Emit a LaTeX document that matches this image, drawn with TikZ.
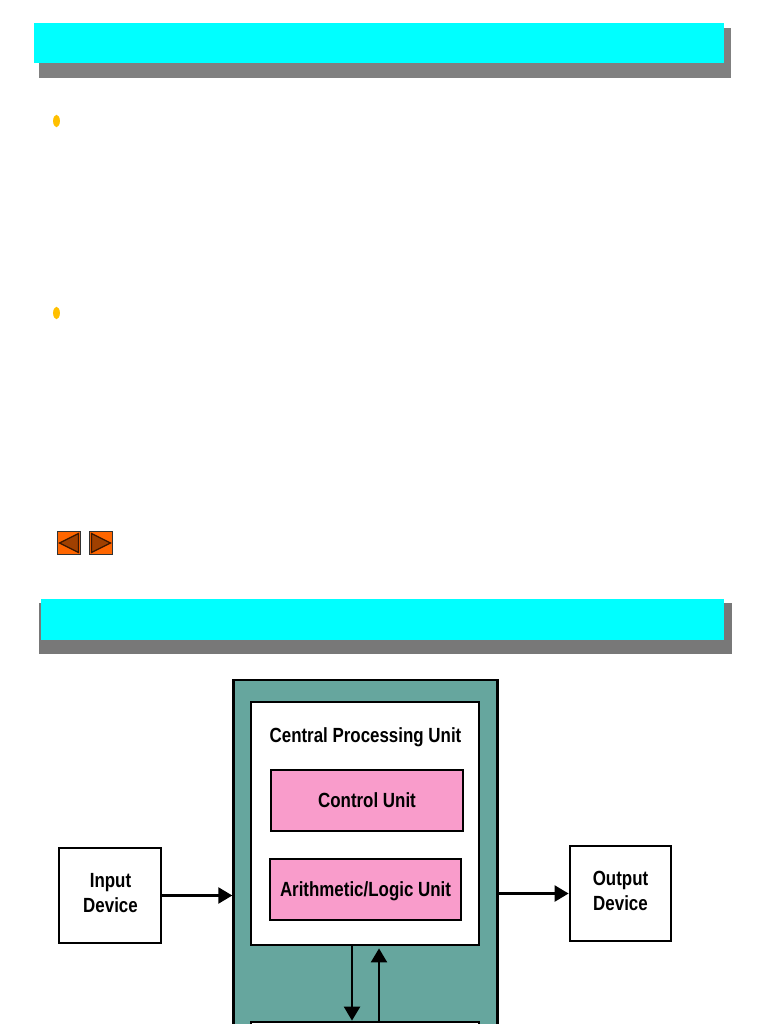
\documentclass[tikz,border=0pt]{standalone}
\usepackage{fontspec}
\setmainfont[FakeStretch=.825,BoldFont={Liberation Sans Bold}]{Liberation Sans}
\usetikzlibrary{arrows.meta}
\definecolor{barcyan}{HTML}{00FFFF}
\definecolor{cputeal}{HTML}{66A69E}
\definecolor{unitpink}{HTML}{F99CCB}
\definecolor{navorange}{HTML}{FF6600}
\definecolor{navbrown}{HTML}{A04000}
\definecolor{bulletgold}{HTML}{FFC000}
\tikzset{
 blocktext/.style={align=center,font=\fontsize{20.5}{24.5}\selectfont\bfseries},
 block/.style={draw=black,line width=2.8pt,inner sep=0pt,blocktext},
 link/.style={line width=2.4pt,-{Triangle[length=14pt,width=16pt]}}
}
\begin{document}
\begin{tikzpicture}[x=1pt,y=-1pt]
 \useasboundingbox (0,0) rectangle (768,1024);
 \clip (0,0) rectangle (768,1024);
 \fill[white] (0,0) rectangle (768,1024);
 % title bars
 \fill[black!50] (39,28) rectangle (731,78); \fill[barcyan] (34,23) rectangle (724,63);
 \fill[black!53] (39,603) rectangle (732,654); \fill[barcyan] (41,599) rectangle (724,640);
 % bullets
 \foreach \y in {121,313} \fill[bulletgold] (56.5,\y) ellipse (3.4 and 6.2);
 % nav buttons
 \foreach \x/\d in {57.5/-1,89.5/1} {
  \draw[fill=navorange,draw=black!80,line width=1.2pt] (\x,531.5) rectangle ++(23,23);
  \draw[fill=navbrown,draw=black!65!navbrown,line width=1.2pt] (\x+11.5+9.5*\d,543) -- (\x+11.5-9.5*\d,533.5) -- (\x+11.5-9.5*\d,552.5) -- cycle;
 }
 % blocks
 \node[block,fill=cputeal,line width=2.4pt,minimum width=264pt,minimum height=444pt] (outer) at (365.5,902) {};
 \node[block,fill=white,minimum width=228pt,minimum height=243pt] (inner) at (365,823.5) {};
 \node[blocktext] (cpu) at (365.5,737) {Central Processing Unit};
 \node[block,fill=unitpink,minimum width=192pt,minimum height=61pt] (control) at (367,800.5) {};
 \node[blocktext] (controltext) at (367,800) {Control Unit};
 \node[block,fill=unitpink,minimum width=191pt,minimum height=61pt] (alu) at (365.5,889.5) {};
 \node[blocktext] (alutext) at (365.5,891) {Arithmetic/Logic Unit};
 \node[block,fill=white,minimum width=102pt,minimum height=95pt] (input) at (110,895.5) {};
 \node[blocktext] (inputtext) at (110.5,893) {Input\\Device};
 \node[block,fill=white,minimum width=101pt,minimum height=95pt] (output) at (620.5,893.5) {};
 \node[blocktext] (outputtext) at (620.5,891) {Output\\Device};
 \node[block,fill=white,minimum width=228pt,minimum height=100pt] (memory) at (365,1072) {};
 % connectors
 \draw[link] (input) -- (input -| outer.west);
 \draw[link] (outer.east |- output) -- (output);
 \draw[link] ([xshift=-13pt]inner.south) -- ([xshift=-13pt]memory.north);
 \draw[link,shorten >=2pt] ([xshift=14pt]memory.north) -- ([xshift=14pt]inner.south);
\end{tikzpicture}
\end{document}
